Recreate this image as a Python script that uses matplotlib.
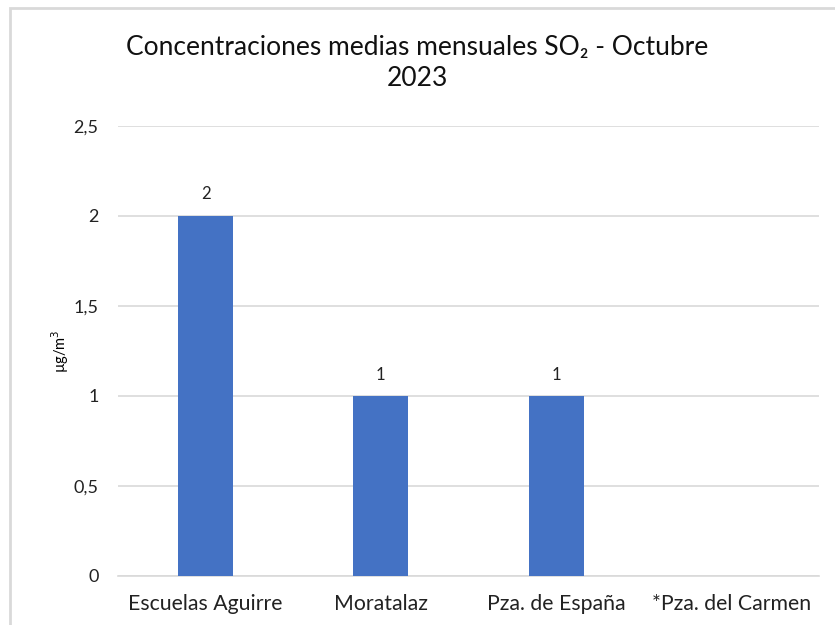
import matplotlib
matplotlib.use('Agg')
import matplotlib.pyplot as plt
import matplotlib.patches as mpatches
import numpy as np

plt.rcParams['font.family'] = ['Lato', 'DejaVu Sans']

estaciones = ['Escuelas Aguirre', 'Moratalaz', 'Pza. de España', '*Pza. del Carmen']
valores = [2, 1, 1, np.nan]
yticks = [0, 0.5, 1, 1.5, 2, 2.5]
ytick_labels = ['0', '0,5', '1', '1,5', '2', '2,5']

fig = plt.figure(figsize=(8.35, 6.25), dpi=100)
ax = fig.add_axes([118 / 835, 1 - 576 / 625, (819 - 118) / 835, (576 - 126) / 625])

# chart frame (light grey border, cut off at right and bottom)
fig.patches.append(mpatches.Rectangle((10 / 835, -0.1), 1.1, 1 - 8 / 625 + 0.1,
                                      transform=fig.transFigure, fill=False,
                                      edgecolor='#D9D9D9', linewidth=2))

x = np.arange(len(estaciones))
bars = ax.bar(x, valores, 0.315, color='#4472C4', zorder=3)
for xi, v in zip(x, valores):
    if np.isnan(v):
        continue
    ax.text(xi, v + 0.075, f'{v:g}', ha='center', va='bottom', fontsize=12, color='#222222')

ax.set_xlim(-0.5, len(estaciones) - 0.5)
ax.set_ylim(0, 2.5)
ax.set_yticks(yticks)
ax.set_yticklabels(ytick_labels)
ax.set_xticks(x)
ax.set_xticklabels(estaciones)
ax.tick_params(axis='both', length=0, colors='#222222')
ax.tick_params(axis='x', pad=13, labelsize=15.3)
ax.tick_params(axis='y', pad=14, labelsize=13)
ax.yaxis.grid(True, color='#D9D9D9', linewidth=1.2, zorder=0)
ax.set_axisbelow(True)
for s in ['top', 'right', 'left']:
    ax.spines[s].set_visible(False)
ax.spines['bottom'].set_color('#D9D9D9')
ax.spines['bottom'].set_linewidth(1.2)

ax.set_ylabel('µg/m$^3$', fontsize=10.5, va='center')
ax.yaxis.set_label_coords(-0.083, 0.5)

fig.text(0.5, 1 - 47 / 625, 'Concentraciones medias mensuales SO₂ - Octubre',
         ha='center', va='center', fontsize=19, color='#111111')
fig.text(0.5, 1 - 78 / 625, '2023',
         ha='center', va='center', fontsize=19, color='#111111')

fig.savefig('out.png', dpi=100)
